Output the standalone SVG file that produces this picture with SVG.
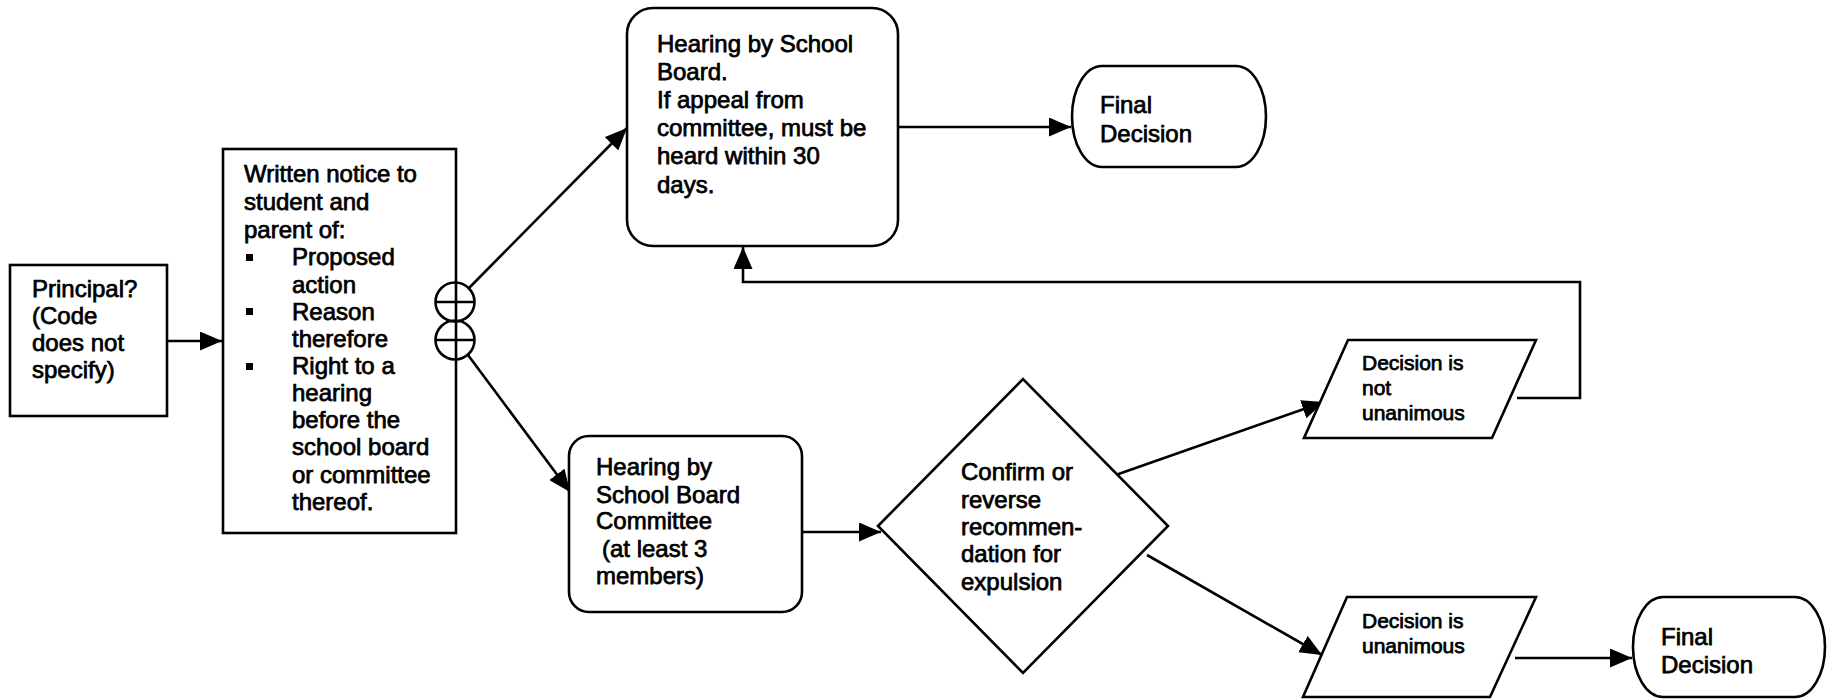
<svg xmlns="http://www.w3.org/2000/svg" width="1834" height="699" viewBox="0 0 1834 699">
<style>
  .shape { fill: #fff; stroke: #000; stroke-width: 2.6; }
  .ring { fill: none; stroke: #000; stroke-width: 2.6; }
  .conn { fill: none; stroke: #000; stroke-width: 2.6; }
  .t { font-family: "Liberation Sans", Arial, sans-serif; font-size: 24px; fill: #000; stroke: #000; stroke-width: 0.75; }
  .s { font-size: 21px; }
</style>
<defs>
  <marker id="arrow" viewBox="0 0 22 19" refX="22" refY="9.5" markerWidth="22" markerHeight="19" markerUnits="userSpaceOnUse" orient="auto">
    <path d="M0,0 L22,9.5 L0,19 Z" fill="#000"/>
  </marker>
</defs>
<rect width="1834" height="699" fill="#fff"/>

<g id="connectors">
  <line class="conn" x1="167" y1="341" x2="222" y2="341" marker-end="url(#arrow)"/>
  <line class="conn" x1="469" y1="288" x2="627" y2="128" marker-end="url(#arrow)"/>
  <line class="conn" x1="468" y1="355" x2="570" y2="492" marker-end="url(#arrow)"/>
  <line class="conn" x1="898" y1="127" x2="1071" y2="127" marker-end="url(#arrow)"/>
  <line class="conn" x1="802" y1="532" x2="881" y2="532" marker-end="url(#arrow)"/>
  <line class="conn" x1="1110" y1="477" x2="1324" y2="402" marker-end="url(#arrow)"/>
  <line class="conn" x1="1147" y1="555" x2="1322" y2="655" marker-end="url(#arrow)"/>
  <polyline class="conn" points="1517,398 1580,398 1580,282 743,282 743,247" marker-end="url(#arrow)"/>
  <line class="conn" x1="1515" y1="658" x2="1632" y2="658" marker-end="url(#arrow)"/>
</g>

<g id="principal">
  <rect class="shape" x="10" y="265" width="157" height="151"/>
  <text class="t" x="32" y="297">Principal?</text>
  <text class="t" x="32" y="324">(Code</text>
  <text class="t" x="32" y="351">does not</text>
  <text class="t" x="32" y="378">specify)</text>
</g>

<g id="written-notice">
  <rect class="shape" x="223" y="149" width="233" height="384"/>
  <text class="t" x="244" y="182">Written notice to</text>
  <text class="t" x="244" y="210">student and</text>
  <text class="t" x="244" y="238">parent of:</text>
  <rect x="246" y="254" width="7" height="7" fill="#000"/>
  <text class="t" x="292" y="265">Proposed</text>
  <text class="t" x="292" y="293">action</text>
  <rect x="246" y="308" width="7" height="7" fill="#000"/>
  <text class="t" x="292" y="320">Reason</text>
  <text class="t" x="292" y="347">therefore</text>
  <rect x="246" y="363" width="7" height="7" fill="#000"/>
  <text class="t" x="292" y="374">Right to a</text>
  <text class="t" x="292" y="401">hearing</text>
  <text class="t" x="292" y="428">before the</text>
  <text class="t" x="292" y="455">school board</text>
  <text class="t" x="292" y="483">or committee</text>
  <text class="t" x="292" y="510">thereof.</text>
</g>

<g id="or-connector-1">
  <circle class="ring" cx="455" cy="302" r="19.5"/>
  <line class="conn" x1="435.5" y1="302" x2="474.5" y2="302"/>
</g>
<g id="or-connector-2">
  <circle class="ring" cx="455" cy="340" r="19.5"/>
  <line class="conn" x1="435.5" y1="340" x2="474.5" y2="340"/>
</g>

<g id="hearing-board">
  <rect class="shape" x="627" y="8" width="271" height="238" rx="26" ry="26"/>
  <text class="t" x="657" y="52">Hearing by School</text>
  <text class="t" x="657" y="80">Board.</text>
  <text class="t" x="657" y="108">If appeal from</text>
  <text class="t" x="657" y="136">committee, must be</text>
  <text class="t" x="657" y="164">heard within 30</text>
  <text class="t" x="657" y="193">days.</text>
</g>

<g id="final-decision-1">
  <path class="shape" d="M1102,66 H1236 A30,50.5 0 0 1 1236,167 H1102 A30,50.5 0 0 1 1102,66 Z"/>
  <text class="t" x="1100" y="113">Final</text>
  <text class="t" x="1100" y="142">Decision</text>
</g>

<g id="hearing-committee">
  <rect class="shape" x="569" y="436" width="233" height="176" rx="20" ry="20"/>
  <text class="t" x="596" y="475">Hearing by</text>
  <text class="t" x="596" y="503">School Board</text>
  <text class="t" x="596" y="529">Committee</text>
  <text class="t" x="602" y="557">(at least 3</text>
  <text class="t" x="596" y="584">members)</text>
</g>

<g id="decision-diamond">
  <polygon class="shape" points="878,526 1023,379 1168,526 1023,673"/>
  <text class="t" x="961" y="480">Confirm or</text>
  <text class="t" x="961" y="508">reverse</text>
  <text class="t" x="961" y="535">recommen-</text>
  <text class="t" x="961" y="562">dation for</text>
  <text class="t" x="961" y="590">expulsion</text>
</g>

<g id="not-unanimous">
  <polygon class="shape" points="1348,340 1536,340 1492,438 1304,438"/>
  <text class="t s" x="1362" y="370">Decision is</text>
  <text class="t s" x="1362" y="395">not</text>
  <text class="t s" x="1362" y="420">unanimous</text>
</g>

<g id="unanimous">
  <polygon class="shape" points="1347,597 1536,597 1490,697 1303,697"/>
  <text class="t s" x="1362" y="628">Decision is</text>
  <text class="t s" x="1362" y="653">unanimous</text>
</g>

<g id="final-decision-2">
  <path class="shape" d="M1663,597 H1795 A30,50 0 0 1 1795,697 H1663 A30,50 0 0 1 1663,597 Z"/>
  <text class="t" x="1661" y="645">Final</text>
  <text class="t" x="1661" y="673">Decision</text>
</g>
</svg>
